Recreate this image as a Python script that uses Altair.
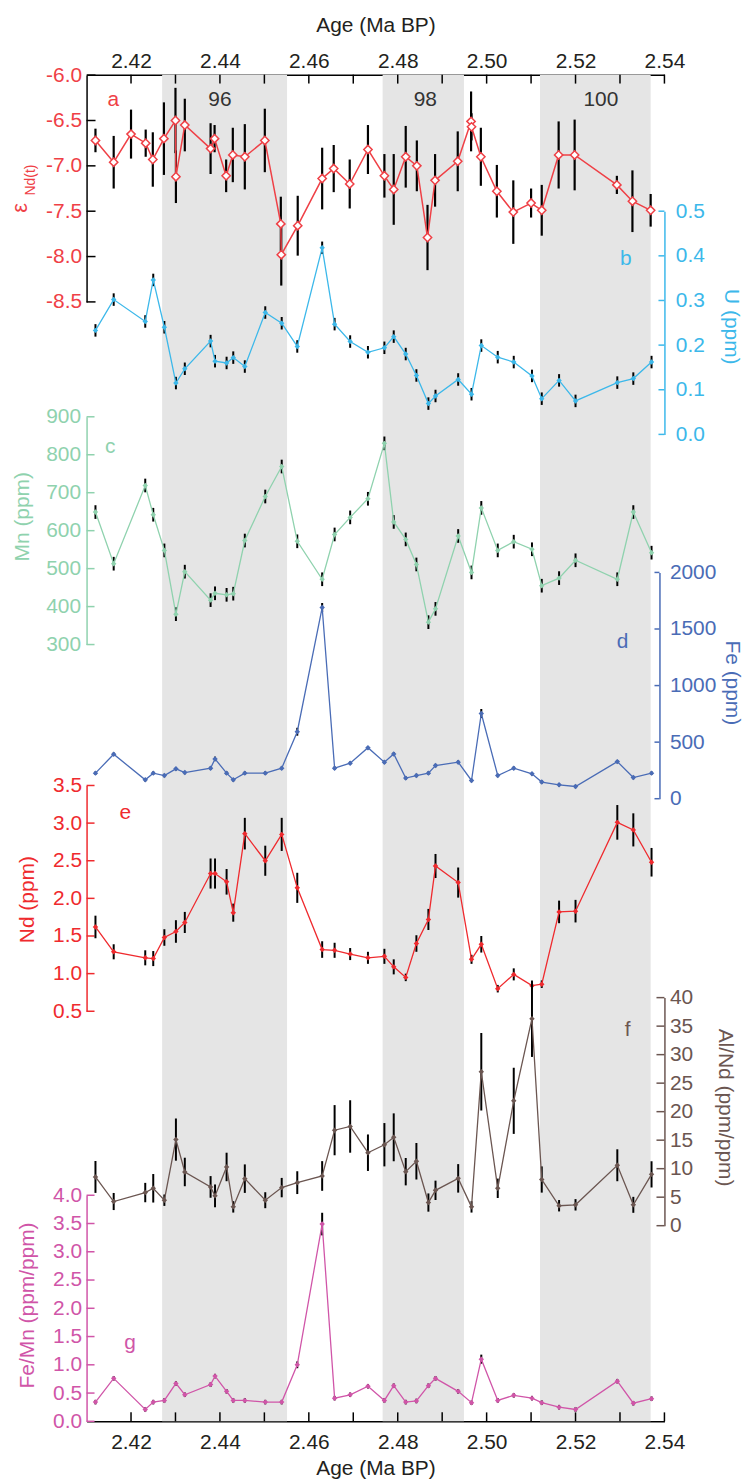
import altair as alt
import pandas as pd

FONT = "Liberation Sans"
FS = 21
W, H = 581, 1354

DARK = "#231f20"
BAND = "#e5e5e5"
C_EPS = "#ef4046"
C_U = "#3cb8ea"
C_MN = "#8fd2ae"
C_FE = "#4a6cb6"
C_ND = "#ef2a2e"
C_AL = "#6b5651"
C_FM = "#d055a8"

# ---------------- data ----------------
eps_age = [2.4120, 2.4161, 2.4200, 2.4233, 2.4249, 2.4274, 2.4300, 2.4301, 2.4321, 2.4379,
           2.4388, 2.4414, 2.4429, 2.4456, 2.4501, 2.4537, 2.4538, 2.4575, 2.4630, 2.4656,
           2.4692, 2.4733, 2.4770, 2.4791, 2.4818, 2.4843, 2.4867, 2.4884, 2.4935, 2.4965,
           2.4966, 2.4987, 2.5023, 2.5060, 2.5100, 2.5124, 2.5162, 2.5198, 2.5293, 2.5328, 2.5369]
eps_nd = [-6.72, -6.96, -6.65, -6.75, -6.93, -6.70, -6.50, -7.12, -6.55, -6.81,
          -6.70, -7.11, -6.88, -6.90, -6.72, -7.64, -7.98, -7.66, -7.14, -7.03,
          -7.20, -6.82, -7.11, -7.26, -6.90, -7.00, -7.79, -7.16, -6.95, -6.51,
          -6.57, -6.90, -7.28, -7.51, -7.41, -7.49, -6.88, -6.88, -7.21, -7.39, -7.49]
eps_err = [0.13, 0.29, 0.27, 0.15, 0.30, 0.40, 0.36, 0.29, 0.29, 0.28,
           0.15, 0.18, 0.30, 0.36, 0.35, 0.30, 0.34, 0.33, 0.34, 0.26,
           0.27, 0.27, 0.24, 0.39, 0.34, 0.28, 0.36, 0.29, 0.33, 0.33,
           0.15, 0.32, 0.29, 0.35, 0.16, 0.28, 0.37, 0.39, 0.10, 0.34, 0.18]

age = [2.4120, 2.4161, 2.4232, 2.4250, 2.4275, 2.4301, 2.4321, 2.4379, 2.4389, 2.4415,
       2.4430, 2.4456, 2.4502, 2.4539, 2.4574, 2.4630, 2.4658, 2.4693, 2.4733, 2.4770,
       2.4791, 2.4818, 2.4842, 2.4869, 2.4885, 2.4936, 2.4966, 2.4988, 2.5025, 2.5061,
       2.5102, 2.5124, 2.5163, 2.5200, 2.5294, 2.5330, 2.5371]

u_ppm = [0.233, 0.302, 0.253, 0.346, 0.240, 0.115, 0.147, 0.209, 0.164, 0.160,
         0.172, 0.152, 0.273, 0.249, 0.197, 0.418, 0.247, 0.208, 0.184, 0.194,
         0.219, 0.180, 0.132, 0.069, 0.086, 0.123, 0.090, 0.199, 0.173, 0.162,
         0.131, 0.080, 0.121, 0.075, 0.116, 0.125, 0.162]
u_err = [0.014] * 37

mn_ppm = [649, 513, 719, 642, 548, 380, 492, 417, 435, 431,
          434, 574, 690, 769, 572, 472, 590, 635, 684, 830,
          623, 577, 511, 359, 394, 586, 490, 660, 548, 571,
          551, 455, 475, 522, 472, 649, 542]
mn_err = [18] * 37

fe_ppm = [226, 393, 167, 226, 205, 264, 231, 270, 352, 226,
          167, 226, 226, 270, 592, 1690, 270, 314, 451, 323,
          396, 182, 205, 226, 293, 323, 161, 753, 205, 270,
          220, 147, 123, 108, 328, 187, 226]
fe_err = [15, 15, 15, 15, 15, 15, 15, 15, 20, 15,
          15, 15, 15, 15, 35, 40, 15, 15, 15, 15,
          15, 15, 15, 15, 15, 15, 15, 40, 15, 15,
          15, 15, 15, 15, 15, 15, 15]

nd_ppm = [1.62, 1.29, 1.21, 1.20, 1.48, 1.56, 1.68, 2.33, 2.33, 2.22,
          1.81, 2.86, 2.50, 2.85, 2.14, 1.32, 1.31, 1.26, 1.21, 1.23,
          1.09, 0.95, 1.40, 1.72, 2.43, 2.21, 1.19, 1.39, 0.80, 0.99,
          0.84, 0.86, 1.82, 1.83, 3.01, 2.91, 2.48]
nd_err = [0.15, 0.10, 0.10, 0.10, 0.11, 0.15, 0.14, 0.20, 0.20, 0.17,
          0.12, 0.21, 0.20, 0.22, 0.20, 0.11, 0.10, 0.08, 0.08, 0.10,
          0.10, 0.05, 0.11, 0.14, 0.16, 0.20, 0.06, 0.11, 0.05, 0.08,
          0.05, 0.05, 0.15, 0.15, 0.23, 0.22, 0.19]

alnd = [8.55, 4.24, 5.81, 6.56, 4.47, 15.1, 9.42, 6.80, 5.23, 10.3,
        3.30, 8.25, 4.47, 6.68, 7.55, 8.72, 16.75, 17.4, 12.8, 14.2,
        15.5, 9.47, 11.3, 4.06, 6.20, 8.30, 3.30, 27.0, 6.56, 21.9,
        36.3, 8.10, 3.50, 3.66, 10.6, 3.66, 9.00]
alnd_err = [2.8, 1.5, 1.7, 2.5, 1.0, 3.7, 2.5, 1.9, 2.0, 2.5,
            1.0, 2.5, 1.4, 1.7, 2.0, 2.6, 4.4, 4.6, 3.2, 3.8,
            4.2, 2.4, 3.2, 1.6, 1.7, 2.5, 1.0, 6.8, 1.7, 5.8,
            6.7, 2.3, 1.0, 1.0, 2.8, 1.4, 2.3]

femn = [0.34, 0.76, 0.21, 0.34, 0.37, 0.67, 0.47, 0.65, 0.80, 0.53,
        0.37, 0.37, 0.34, 0.34, 1.00, 3.49, 0.41, 0.47, 0.62, 0.37,
        0.63, 0.34, 0.36, 0.63, 0.76, 0.53, 0.33, 1.10, 0.37, 0.46,
        0.41, 0.33, 0.25, 0.21, 0.71, 0.32, 0.40]
femn_err = [0.04, 0.04, 0.04, 0.04, 0.04, 0.04, 0.04, 0.04, 0.04, 0.04,
            0.04, 0.04, 0.04, 0.04, 0.06, 0.20, 0.04, 0.04, 0.04, 0.04,
            0.04, 0.04, 0.04, 0.04, 0.04, 0.04, 0.04, 0.08, 0.04, 0.04,
            0.04, 0.04, 0.04, 0.04, 0.04, 0.04, 0.04]

band_start = [2.4270, 2.4766, 2.5120]
band_end = [2.4551, 2.4949, 2.5369]
band_names = ["96", "98", "100"]
band_name_age = [2.4400, 2.4862, 2.5257]

x_ticks = [2.42, 2.43, 2.44, 2.45, 2.46, 2.47, 2.48, 2.49, 2.50, 2.51, 2.52, 2.53, 2.54]
eps_ticks = [-8.5, -8.0, -7.5, -7.0, -6.5, -6.0]
u_ticks = [0.0, 0.1, 0.2, 0.3, 0.4, 0.5]
mn_ticks = [300, 400, 500, 600, 700, 800, 900]
fe_ticks = [0, 500, 1000, 1500, 2000]
nd_ticks = [0.5, 1.0, 1.5, 2.0, 2.5, 3.0, 3.5]
al_ticks = [0, 5, 10, 15, 20, 25, 30, 35, 40]
fm_ticks = [0.0, 0.5, 1.0, 1.5, 2.0, 2.5, 3.0, 3.5, 4.0]

panel_letters = ["a", "b", "c", "d", "e", "f", "g"]
letter_age = [2.4160, 2.5313, 2.4153, 2.5306, 2.4187, 2.5317, 2.4198]

# ---------------- helpers ----------------
xscale = alt.Scale(domain=[2.41, 2.54], nice=False, zero=False)


def fmt_expr(f):
    return "replace(format(datum.value, '" + f + "'), '\u2212', '-')"


X_LAB = "round(datum.value * 100) % 2 == 0 ? format(datum.value, '.2f') : ''"


def yaxis(orient, values, f, label_color, line_color, title, pad,
          tx=None, ty=None, offset=None):
    kw = dict(orient=orient, values=values, labelExpr=fmt_expr(f),
              ticks=False, labelPadding=pad,
              labelColor=label_color, domainColor=line_color,
              grid=False, labelFlush=False, labelOverlap=False,
              labelFont=FONT, labelFontSize=FS, domainWidth=1.5)
    if title is None:
        kw["title"] = None
    else:
        kw.update(title=title, titleColor=label_color, titleFont=FONT, titleFontSize=FS,
                  titleFontWeight="normal", titleX=tx, titleY=ty,
                  titleAngle=270 if orient == "left" else 90,
                  titleBaseline="middle", titleAlign="center")
    if offset is not None:
        kw["offset"] = offset
    return alt.Axis(**kw)


def xaxis(orient, pad, ty):
    return alt.Axis(orient=orient, values=x_ticks, labelExpr=X_LAB,
                    ticks=False, labelPadding=pad,
                    labelColor=DARK, domainColor="black",
                    grid=False, labelFlush=False, labelOverlap=False,
                    labelFont=FONT, labelFontSize=FS, domainWidth=1.5,
                    title="Age (Ma BP)", titleColor=DARK, titleFont=FONT, titleFontSize=FS,
                    titleFontWeight="normal", titleX=W / 2, titleY=ty,
                    titleBaseline="alphabetic", titleAlign="center")


def panel(ages, vals, errs, color, domain, rng, axis, point_kw, tick_vals, tick_color,
          tick_len, side, lw=1.3, rule_w=2.0, x_axis=None, axis_off=0):
    df = pd.DataFrame({
        "age": ages,
        "v": vals,
        "lo": [v - e for v, e in zip(vals, errs)],
        "hi": [v + e for v, e in zip(vals, errs)],
        "i": list(range(len(vals))),
    })
    ys = alt.Scale(domain=domain, range=rng, nice=False, zero=False)
    base = alt.Chart(df)
    if side == "left":
        tx0, tx1 = 0, tick_len
    else:
        tx0, tx1 = W + axis_off, W + axis_off - tick_len
    ticks = alt.Chart(pd.DataFrame({"t": tick_vals})).mark_rule(
        color=tick_color, strokeWidth=1.5
    ).encode(y=alt.Y("t:Q", scale=ys, axis=None), x=alt.value(tx0), x2=alt.value(tx1))
    bars = base.mark_rule(color="black", strokeWidth=rule_w).encode(
        x=alt.X("age:Q", scale=xscale, axis=None),
        y=alt.Y("lo:Q", scale=ys, axis=None),
        y2="hi:Q")
    line = base.mark_line(color=color, strokeWidth=lw).encode(
        x=alt.X("age:Q", scale=xscale, axis=x_axis),
        y=alt.Y("v:Q", scale=ys, axis=axis),
        order="i:Q")
    pts = base.mark_point(**point_kw).encode(
        x=alt.X("age:Q", scale=xscale, axis=None),
        y=alt.Y("v:Q", scale=ys, axis=None))
    return [ticks, bars, line, pts]


def small(color):
    return dict(shape="diamond", filled=True, color=color, size=30, opacity=1)


def note(text, a, ypx, color, size=FS):
    return alt.Chart(alt.Data(values=[{}])).mark_text(
        text=text, color=color, font=FONT, fontSize=size, align="center", baseline="middle"
    ).encode(x=alt.XDatum(a, type="quantitative", scale=xscale, axis=None), y=alt.value(ypx))


# ---------------- layers ----------------
bands = alt.Chart(pd.DataFrame({"start": band_start, "end": band_end})).mark_rect(color=BAND).encode(
    x=alt.X("start:Q", scale=xscale, axis=xaxis("top", 3, -43.5)),
    x2="end:Q",
    y=alt.value(0), y2=alt.value(H))

xt_df = pd.DataFrame({"t": x_ticks})
top_ticks = alt.Chart(xt_df).mark_rule(color="black", strokeWidth=1.5).encode(
    x=alt.X("t:Q", scale=xscale, axis=None), y=alt.value(0), y2=alt.value(9))
bot_ticks = alt.Chart(xt_df).mark_rule(color="black", strokeWidth=1.5).encode(
    x=alt.X("t:Q", scale=xscale, axis=None), y=alt.value(H), y2=alt.value(H - 9))

notes = [note(t, a, 26, "#333333") for t, a in zip(band_names, band_name_age)]
letter_y = [26, 185, 374, 570.7, 742, 960.7, 1275.7]
letter_c = [C_EPS, C_U, C_MN, C_FE, C_ND, C_AL, C_FM]
notes += [note(t, a, y, c) for t, a, y, c in zip(panel_letters, letter_age, letter_y, letter_c)]

eps_title = [
    alt.Chart(alt.Data(values=[{}])).mark_text(
        text="\u03b5", color=C_EPS, font=FONT, fontSize=22, angle=270, align="center", baseline="middle"
    ).encode(x=alt.value(-67), y=alt.value(134)),
    alt.Chart(alt.Data(values=[{}])).mark_text(
        text="Nd(t)", color=C_EPS, font=FONT, fontSize=14, angle=270, align="center", baseline="middle"
    ).encode(x=alt.value(-56), y=alt.value(106)),
]

pa = panel(eps_age, eps_nd, eps_err, C_EPS, [-8.5, -6.0], [228.5, 0.5],
           yaxis("left", eps_ticks, ".1f", C_EPS, "black", None, 5),
           dict(shape="diamond", filled=True, fill="white", stroke=C_EPS, strokeWidth=1.5,
                size=70, opacity=1),
           eps_ticks, "black", 9, "left", lw=1.5, rule_w=2.2)
pb = panel(age, u_ppm, u_err, C_U, [0, 0.5], [361.7, 137.3],
           yaxis("right", u_ticks, ".1f", C_U, C_U, "U (ppm)", 11, 66, 253),
           small(C_U), u_ticks, C_U, 6, "right")
pc = panel(age, mn_ppm, mn_err, C_MN, [300, 900], [573, 344],
           yaxis("left", mn_ticks, "d", C_MN, C_MN, "Mn (ppm)", 6, -64, 444),
           small(C_MN), mn_ticks, C_MN, 8, "left")
pd_ = panel(age, fe_ppm, fe_err, C_FE, [0, 2000], [728, 500.5],
            yaxis("right", fe_ticks, "d", C_FE, C_FE, "Fe (ppm)", 10, 72, 611, offset=-5),
            small(C_FE), fe_ticks, C_FE, 5, "right", axis_off=-5)
pe = panel(age, nd_ppm, nd_err, C_ND, [0.5, 3.5], [941.7, 714.7],
           yaxis("left", nd_ticks, ".1f", C_ND, C_ND, "Nd (ppm)", 5, -59.5, 829),
           small(C_ND), nd_ticks, C_ND, 8, "left")
pf = panel(age, alnd, alnd_err, C_AL, [0, 40], [1157.3, 928],
           yaxis("right", al_ticks, "d", C_AL, C_AL, "Al/Nd (ppm/ppm)", 5, 60.5, 1038),
           small(C_AL), al_ticks, C_AL, 8, "right")
pg = panel(age, femn, femn_err, C_FM, [0, 4], [1354, 1126.7],
           yaxis("left", fm_ticks, ".1f", C_FM, C_FM, "Fe/Mn (ppm/ppm)", 5, -59.5, 1237),
           small(C_FM), fm_ticks, C_FM, 8, "left", x_axis=xaxis("bottom", 10, 53))

chart = alt.layer(
    bands, top_ticks, bot_ticks, *notes, *eps_title,
    *pa, *pb, *pc, *pd_, *pe, *pf, *pg
).resolve_scale(
    y="independent"
).resolve_axis(
    y="independent", x="independent"
).properties(
    width=W, height=H,
    padding={"left": 79, "top": 63, "right": 80, "bottom": 57},
    autosize=alt.AutoSizeParams(type="none"),
).configure_view(stroke=None)

chart.save("out.html", embed_options={"renderer": "svg", "actions": False})
